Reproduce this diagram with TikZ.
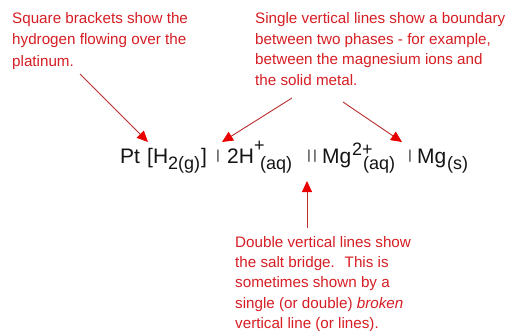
\documentclass[tikz,border=0pt]{standalone}
\usepackage{fontspec}
\setmainfont{Liberation Sans}
\usetikzlibrary{arrows.meta}
\definecolor{notered}{RGB}{214,30,36}
\definecolor{lineRed}{RGB}{185,45,45}
\definecolor{headRed}{RGB}{232,0,0}
\definecolor{formulablack}{RGB}{20,20,20}
\tikzset{
  note/.style={anchor=north west, inner sep=0pt, align=left, text=notered},
  fbig/.style={anchor=base west, inner sep=0pt, text=formulablack, font=\fontsize{21}{21}\selectfont},
  fsub/.style={anchor=base west, inner sep=0pt, text=formulablack, font=\fontsize{18}{18}\selectfont},
  fbar/.style={anchor=base, inner sep=0pt, text=formulablack, font=\fontsize{13}{13}\selectfont},
  pointer/.style={draw=lineRed, line width=0.9pt, -{Triangle[length=11pt,width=10pt,color=headRed,fill=headRed]}}
}
\begin{document}
\begin{tikzpicture}[x=1pt,y=-1pt]
\useasboundingbox[fill=white] (0,0) rectangle (508,330);
% annotations
\node[note, font=\fontsize{15.2}{21.5}\selectfont] (t1) at (12,12)
  {Square brackets show the\\hydrogen flowing over the\\platinum.};
\node[note, font=\fontsize{15.2}{20.8}\selectfont] (t2) at (255,12)
  {Single vertical lines show a boundary\\between two phases - for example,\\between the magnesium ions and\\the solid metal.};
\node[note, font=\fontsize{15.2}{20.3}\selectfont] (t3) at (235,236)
  {Double vertical lines show\\the salt bridge.~ This is\\sometimes shown by a\\single (or double) \textit{broken}\\vertical line (or lines).};
% formula
\node[fbig] (pt) at (120,163) {Pt};
\node[fbig] (hb) at (147,163) {[H};
\node[fsub] (hs) at (168,169) {2(g)};
\node[fbig] (rb) at (201,163) {]};
\node[fbar] (b1) at (218,159.5) {|};
\node[fbig] (h2) at (227,163) {2H};
\node[fsub] (hp) at (254,151) {+};
\node[fsub] (aq1) at (260,169) {(aq)};
\node[fbar] (b2) at (309,159.5) {|};
\node[fbar] (b3) at (315,159.5) {|};
\node[fbig] (mg1) at (322,163) {Mg};
\node[fsub] (mgp) at (352,155) {2+};
\node[fsub] (aq2) at (363,169) {(aq)};
\node[fbar] (b4) at (410,159.5) {|};
\node[fbig] (mg2) at (417,163) {Mg};
\node[fsub] (ms) at (447,169) {(s)};
% pointer ends
\coordinate (p1s) at (80,74);   \coordinate (p1e) at (148,142);
\coordinate (p2s) at (292,98);  \coordinate (p2e) at (222,142);
\coordinate (p3s) at (343,102); \coordinate (p3e) at (402,142);
\coordinate (p4s) at (307,228); \coordinate (p4e) at (307,181);
\draw[pointer] (p1s) -- (p1e);
\draw[pointer] (p2s) -- (p2e);
\draw[pointer] (p3s) -- (p3e);
\draw[pointer] (p4s) -- (p4e);
\end{tikzpicture}
\end{document}
